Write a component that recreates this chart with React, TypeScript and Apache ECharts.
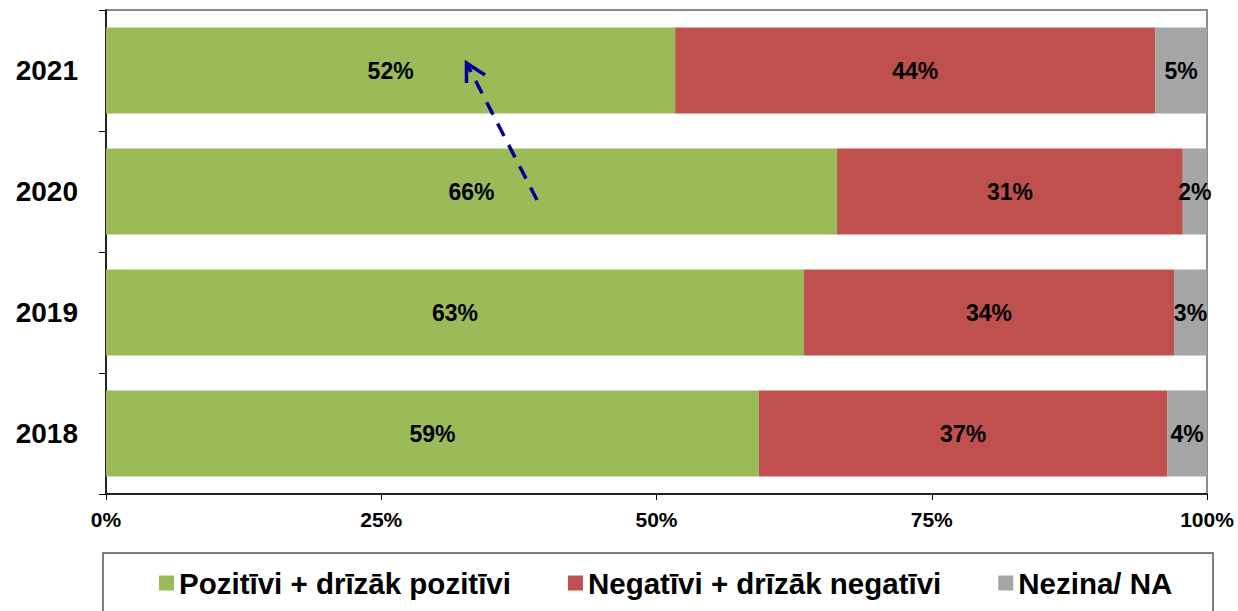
import React, { useEffect, useRef } from "react";
import * as echarts from "echarts";

const years = ["2018", "2019", "2020", "2021"];
const positive = [59.3, 63.4, 66.4, 51.7];
const negative = [37.1, 33.6, 31.4, 43.6];
const unknown = [3.6, 3.0, 2.2, 4.7];
const seriesNames = ["Pozitīvi + drīzāk pozitīvi", "Negatīvi + drīzāk negatīvi", "Nezina/ NA"];
const colors = ["#9BBB59", "#C0504D", "#A5A5A5"];

const FONT = "'Liberation Sans', Arial, sans-serif";

export default function App() {
  const ref = useRef<HTMLDivElement>(null);
  useEffect(() => {
    if (!ref.current) return;
    const chart = echarts.init(ref.current, null, { renderer: "svg" });
    const mk = (name: string, data: number[], color: string) => ({
      name,
      type: "bar",
      stack: "total",
      data,
      barCategoryGap: "29%",
      itemStyle: { color },
      label: {
        show: true,
        position: "inside",
        formatter: (p: any) => Math.round(p.value) + "%",
        color: "#000",
        fontWeight: "bold",
        fontSize: 23,
        fontFamily: FONT,
      },
    });
    chart.setOption({
      animation: false,
      textStyle: { fontFamily: FONT },
      grid: {
        left: 106,
        right: 31,
        top: 10,
        bottom: 117,
        show: true,
        borderColor: "#8c8c8c",
        borderWidth: 2,
        containLabel: false,
      },
      xAxis: {
        type: "value",
        min: 0,
        max: 100,
        interval: 25,
        axisLine: { show: true, lineStyle: { color: "#000", width: 1.5 } },
        axisTick: { show: true, length: 6, lineStyle: { color: "#000" } },
        splitLine: { show: false },
        axisLabel: {
          formatter: "{value}%",
          color: "#000",
          fontWeight: "bold",
          fontSize: 21,
          fontFamily: FONT,
          margin: 15,
        },
      },
      yAxis: {
        type: "category",
        data: years,
        axisLine: { show: true, lineStyle: { color: "#000", width: 1.5 } },
        axisTick: { show: true, length: 7, lineStyle: { color: "#000" } },
        axisLabel: {
          color: "#000",
          fontWeight: "bold",
          fontSize: 28,
          fontFamily: FONT,
          margin: 28,
        },
      },
      legend: {
        left: 154,
        top: 563,
        icon: "rect",
        itemWidth: 15,
        itemHeight: 15,
        itemGap: 57,
        textStyle: { color: "#000", fontWeight: "bold", fontSize: 29.5, fontFamily: FONT },
        data: seriesNames,
      },
      graphic: [
        {
          type: "rect",
          shape: { x: 103, y: 553, width: 1110, height: 80 },
          style: { fill: "none", stroke: "#555", lineWidth: 1.5 },
          silent: true,
        },
        {
          type: "line",
          shape: { x1: 537, y1: 200, x2: 468, y2: 66 },
          style: { stroke: "#000099", lineWidth: 3.5, lineDash: [14, 10] },
          z: 100,
        },
        {
          type: "polyline",
          shape: { points: [[466.5, 83], [466.5, 63], [485, 75]] },
          style: { stroke: "#000099", lineWidth: 3.5, fill: "none" },
          z: 100,
        },
      ],
      series: [
        mk(seriesNames[0], positive, colors[0]),
        mk(seriesNames[1], negative, colors[1]),
        mk(seriesNames[2], unknown, colors[2]),
      ],
    });
    return () => chart.dispose();
  }, []);
  return (
    <div
      ref={ref}
      style={{ position: "fixed", left: 0, top: 0, width: 1238, height: 611, background: "#fff" }}
    />
  );
}
